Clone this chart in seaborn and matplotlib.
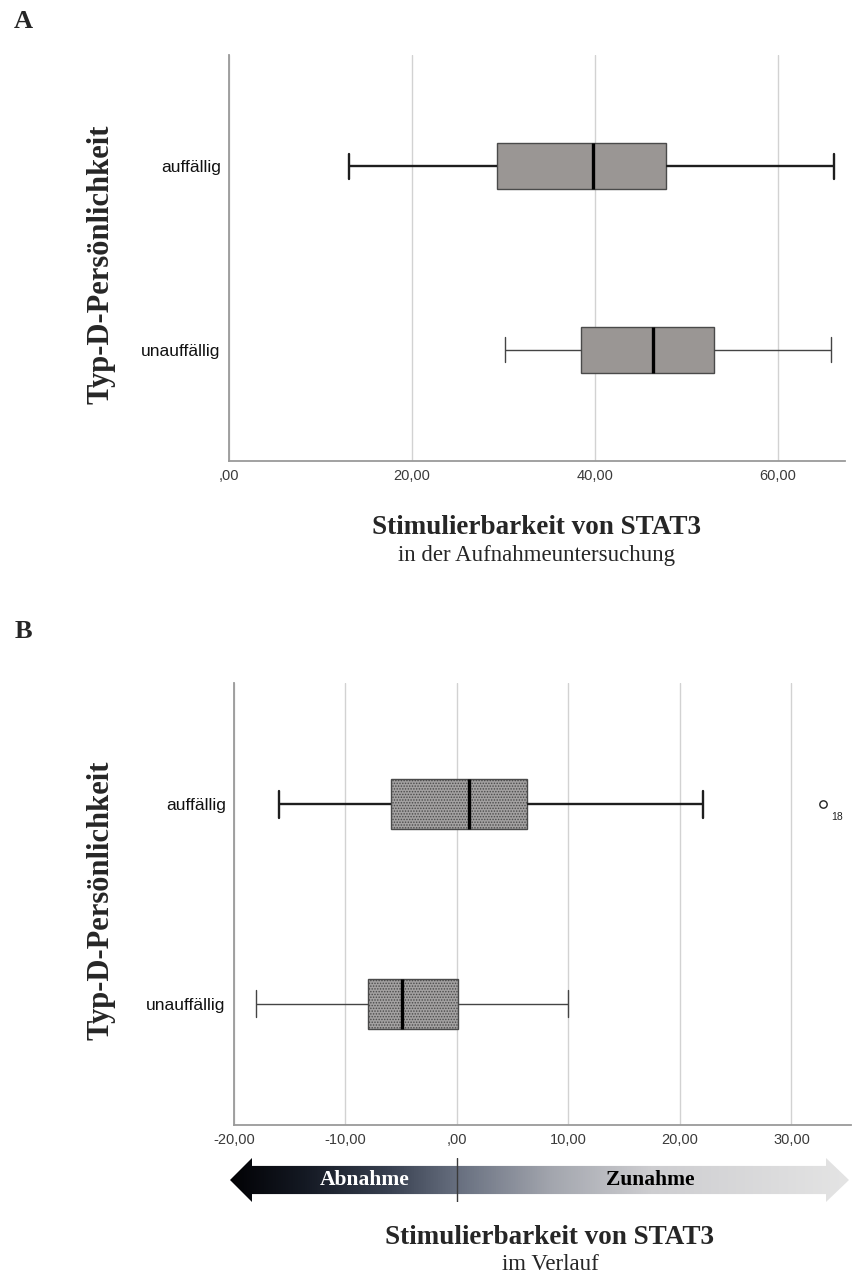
import numpy as np
import pandas as pd
import matplotlib
matplotlib.use("Agg")
import matplotlib.pyplot as plt
import seaborn as sns
from matplotlib.patches import Polygon
from matplotlib.colors import LinearSegmentedColormap

# ---------------- data ----------------
groups = ["auffällig", "unauffällig"]
# five-number summaries: lower whisker, Q1, median, Q3, upper whisker
a_auff = [13.1, 29.3, 39.8, 47.7, 66.1]
a_unauff = [30.2, 38.5, 46.3, 53.0, 65.8]
b_auff = [-16.0, -5.9, 1.05, 6.25, 22.1]
b_unauff = [-18.0, -8.0, -4.9, 0.1, 10.0]
b_outlier_group = ["auffällig"]
b_outlier_value = [32.8]
b_outlier_label = ["18"]

a_ticks = [0, 20, 40, 60]
a_ticklabels = [",00", "20,00", "40,00", "60,00"]
b_ticks = [-20, -10, 0, 10, 20, 30]
b_ticklabels = ["-20,00", "-10,00", ",00", "10,00", "20,00", "30,00"]

ylabel_text = "Typ-D-Persönlichkeit"
title_main = "Stimulierbarkeit von STAT3"
a_sub = "in der Aufnahmeuntersuchung"
b_sub = "im Verlauf"
arrow_left_text = "Abnahme"
arrow_right_text = "Zunahme"

# ---------------- style ----------------
sns.set_theme(style="white")
plt.rcParams["font.family"] = ["Liberation Sans", "DejaVu Sans"]
plt.rcParams["hatch.linewidth"] = 0.7
SERIF = ["Liberation Serif", "DejaVu Serif"]

W, H = 853, 1275
fig = plt.figure(figsize=(W / 100, H / 100), dpi=100)


def px_axes(l, t, r, b):
    return [l / W, 1 - b / H, (r - l) / W, (b - t) / H]


def make_df(v1, v2):
    return pd.DataFrame({"Typ": [groups[0]] * len(v1) + [groups[1]] * len(v2),
                         "value": list(v1) + list(v2)})


def style_box_axes(ax, ticks, ticklabels, xlim, hatch=None, face="#9a9694"):
    ax.set_xlim(*xlim)
    ax.set_ylim(1.607, -0.607)
    ax.set_xticks(ticks)
    ax.set_xticklabels(ticklabels)
    ax.set_xlabel("")
    ax.set_ylabel("")
    ax.grid(axis="x", color="#d2d2d2", lw=1.0)
    ax.grid(axis="y", visible=False)
    ax.set_axisbelow(True)
    for s in ["top", "right"]:
        ax.spines[s].set_visible(False)
    for s in ["left", "bottom"]:
        ax.spines[s].set_color("#9a9a9a")
        ax.spines[s].set_linewidth(1.3)
    ax.tick_params(axis="x", length=0, pad=6, labelsize=10.5, labelcolor="#3a3a3a")
    ax.tick_params(axis="y", length=0, pad=6, labelsize=12.5, labelcolor="#111111")
    # line styling: thicker for first group, caps half box width
    for ln in ax.lines:
        y = np.asarray(ln.get_ydata(), dtype=float)
        x = np.asarray(ln.get_xdata(), dtype=float)
        if len(y) < 2:
            continue
        center = round(float(np.mean(y)))
        is_median = matplotlib.colors.to_hex(ln.get_color()) == "#000000"
        if is_median:
            ln.set_linewidth(2.4)
            continue
        ln.set_linewidth(1.7 if center == 0 else 1.0)
        ln.set_color("#1e1e1e" if center == 0 else "#444444")
        if np.allclose(x[0], x[1]) and not np.allclose(y[0], y[1]):
            ln.set_ydata([center - 0.068, center + 0.068])
    for p in ax.patches:
        p.set_facecolor(face)
        p.set_edgecolor("#4a4a4a")
        p.set_linewidth(1.0)
        if hatch:
            p.set_hatch(hatch)


# ---------------- Panel A ----------------
axA = fig.add_axes(px_axes(229, 55, 845, 461))
sns.boxplot(data=make_df(a_auff, a_unauff), x="value", y="Typ", order=groups,
            orient="h", whis=(0, 100), width=0.25, color="#9a9694",
            linecolor="#3a3a3a", linewidth=1.0,
            medianprops=dict(color="#000000", linewidth=2.4), ax=axA)
style_box_axes(axA, a_ticks, a_ticklabels, (0, 67.3))

# ---------------- Panel B ----------------
axB = fig.add_axes(px_axes(234, 683, 851, 1125))
sns.boxplot(data=make_df(b_auff, b_unauff), x="value", y="Typ", order=groups,
            orient="h", whis=(0, 100), width=0.25, color="#8f8d8d",
            linecolor="#3a3a3a", linewidth=1.0,
            medianprops=dict(color="#000000", linewidth=2.4), ax=axB)
style_box_axes(axB, b_ticks, b_ticklabels, (-20, 35.34), hatch="......", face="#a3a1a1")
out_df = pd.DataFrame({"Typ": b_outlier_group, "value": b_outlier_value})
sns.scatterplot(data=out_df, x="value", y="Typ", ax=axB, marker="o", s=28,
                facecolor="white", edgecolor="#222222", linewidth=1.0, zorder=5)
axB.set_xlabel("")
axB.set_ylabel("")
axB.set_ylim(1.607, -0.607)
for v, g, lab in zip(b_outlier_value, b_outlier_group, b_outlier_label):
    axB.annotate(lab, (v, groups.index(g)), xytext=(6, -9), textcoords="offset points",
                 fontsize=7.5, color="#222222", ha="left", va="center")

# ---------------- gradient arrow ----------------
xl, xr = axB.get_xlim()
scale = (851 - 234) / (xr - xl)
axAr = fig.add_axes(px_axes(226, 1158, 853, 1202))
ax_l = xl - (234 - 226) / scale
ax_r = xr + (853 - 851) / scale
axAr.set_xlim(ax_l, ax_r)
axAr.set_ylim(0, 1)
axAr.axis("off")
tip_l = xl - (234 - 230) / scale
head_l = xl + (252 - 234) / scale
head_r = xl + (826 - 234) / scale
tip_r = xl + (849 - 234) / scale
poly = Polygon([(tip_l, 0.5), (head_l, 1.0), (head_l, 0.82), (head_r, 0.82), (head_r, 1.0),
                (tip_r, 0.5), (head_r, 0.0), (head_r, 0.18), (head_l, 0.18), (head_l, 0.0)],
               closed=True, facecolor="none", edgecolor="none", transform=axAr.transData)
axAr.add_patch(poly)
cmap = LinearSegmentedColormap.from_list("arrow", [
    (0.0, "#020205"), (0.12, "#141923"), (0.25, "#363e4e"), (0.37, "#687080"),
    (0.52, "#a3a6ae"), (0.68, "#cdcdd0"), (1.0, "#e4e4e4")])
grad = np.linspace(0, 1, 512).reshape(1, -1)
im = axAr.imshow(grad, extent=(tip_l, tip_r, 0, 1), aspect="auto", cmap=cmap,
                 interpolation="bilinear")
im.set_clip_path(poly)
axAr.axvline(0, color="#3a3a3a", lw=1.0)
axAr.text(-8.3, 0.5, arrow_left_text, color="white", fontsize=15.5, fontweight="bold",
          family=SERIF, ha="center", va="center")
axAr.text(17.3, 0.5, arrow_right_text, color="black", fontsize=15.5, fontweight="bold",
          family=SERIF, ha="center", va="center")

# ---------------- texts ----------------
fig.text(23 / W, 1 - 21 / H, "A", fontsize=19, fontweight="bold", family=SERIF,
         ha="center", va="center")
fig.text(23 / W, 1 - 632 / H, "B", fontsize=19, fontweight="bold", family=SERIF,
         ha="center", va="center")
fig.text(101 / W, 1 - 264 / H, ylabel_text, rotation=90, fontsize=22, fontweight="bold",
         family=SERIF, ha="center", va="center")
fig.text(101 / W, 1 - 900 / H, ylabel_text, rotation=90, fontsize=22, fontweight="bold",
         family=SERIF, ha="center", va="center")
fig.text(537 / W, 1 - 527 / H, title_main, fontsize=19.5, fontweight="bold", family=SERIF,
         ha="center", va="center")
fig.text(537 / W, 1 - 555 / H, a_sub, fontsize=16.5, family=SERIF, ha="center", va="center")
fig.text(550 / W, 1 - 1237 / H, title_main, fontsize=19.5, fontweight="bold", family=SERIF,
         ha="center", va="center")
fig.text(550 / W, 1 - 1264 / H, b_sub, fontsize=16.5, family=SERIF, ha="center", va="center")

fig.savefig("out.png", dpi=100)
